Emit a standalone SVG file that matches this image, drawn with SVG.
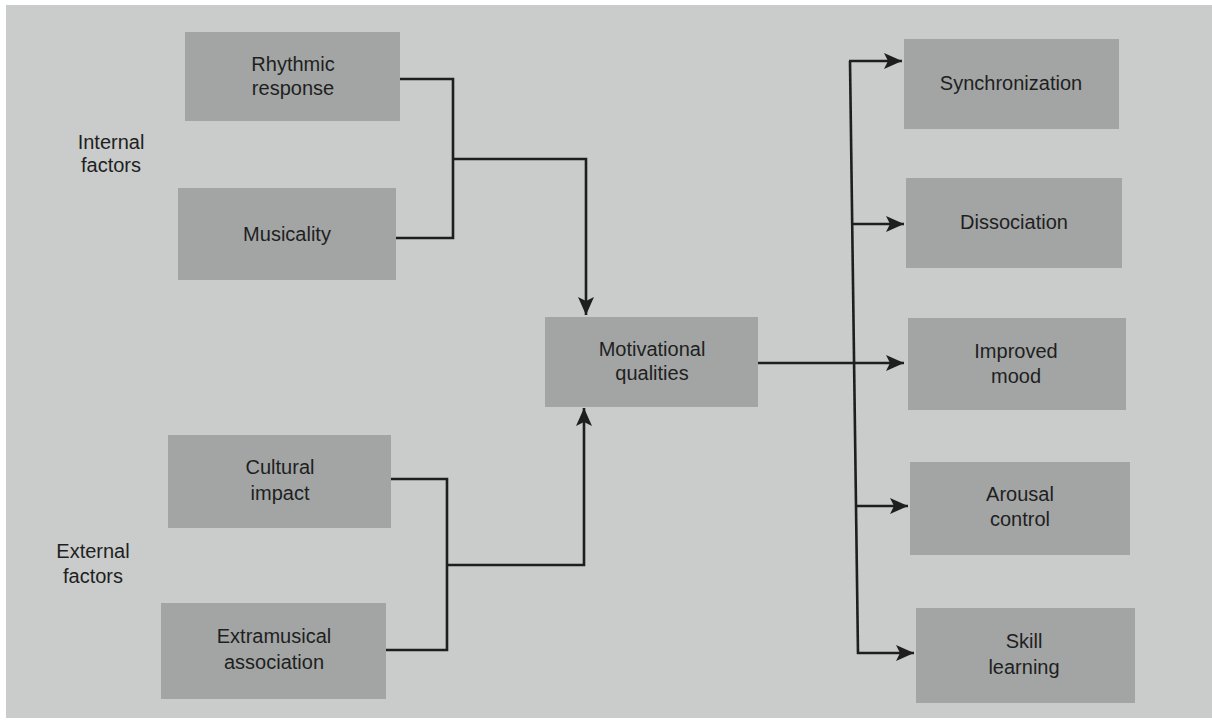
<svg xmlns="http://www.w3.org/2000/svg" width="1212" height="720" viewBox="0 0 1212 720">
<defs>
<marker id="ah" markerUnits="userSpaceOnUse" markerWidth="20" markerHeight="16" refX="18" refY="8" orient="auto">
<path d="M0,0 L18,8 L0,16 L4,8 z" fill="#1e1e1e"/>
</marker>
<style>
.box{fill:#a2a5a4}
.t{font-family:"Liberation Sans",Arial,sans-serif;font-size:20px;fill:#1f1f1f;text-anchor:middle}
.c{fill:none;stroke:#1e1e1e;stroke-width:2.6}
</style>
</defs>
<rect width="1212" height="720" fill="#ffffff"/>
<rect x="6" y="5" width="1206" height="713" fill="#c9cccb"/>
<g id="connectors">
<path class="c" d="M400,79 H453 V238 H396"/>
<path class="c" d="M453,159 H586 V315" marker-end="url(#ah)"/>
<path class="c" d="M391,479 H447 V650 H386"/>
<path class="c" d="M447,565 H584 V408" marker-end="url(#ah)"/>
<path class="c" d="M758,363 H904" marker-end="url(#ah)"/>
<path class="c" d="M850,61 L858,654"/>
<path class="c" d="M849,61 H902" marker-end="url(#ah)"/>
<path class="c" d="M852,224 H904" marker-end="url(#ah)"/>
<path class="c" d="M856,506 H908" marker-end="url(#ah)"/>
<path class="c" d="M857,653 H914" marker-end="url(#ah)"/>
</g>
<g id="internal-label"><text class="t" x="111" y="149">Internal</text><text class="t" x="111" y="172">factors</text></g>
<g id="external-label"><text class="t" x="93" y="558">External</text><text class="t" x="93" y="583">factors</text></g>
<g id="rhythmic"><rect class="box" x="185" y="32" width="215" height="89"/><text class="t" x="293" y="71">Rhythmic</text><text class="t" x="293" y="95">response</text></g>
<g id="musicality"><rect class="box" x="178" y="188" width="218" height="92"/><text class="t" x="287" y="241">Musicality</text></g>
<g id="cultural"><rect class="box" x="168" y="435" width="223" height="93"/><text class="t" x="280" y="474">Cultural</text><text class="t" x="280" y="500">impact</text></g>
<g id="extramusical"><rect class="box" x="161" y="603" width="225" height="96"/><text class="t" x="274" y="643">Extramusical</text><text class="t" x="274" y="669">association</text></g>
<g id="motivational"><rect class="box" x="545" y="317" width="213" height="90"/><text class="t" x="652" y="356">Motivational</text><text class="t" x="652" y="380">qualities</text></g>
<g id="synchronization"><rect class="box" x="904" y="39" width="215" height="90"/><text class="t" x="1011" y="90">Synchronization</text></g>
<g id="dissociation"><rect class="box" x="906" y="178" width="216" height="90"/><text class="t" x="1014" y="229">Dissociation</text></g>
<g id="improved-mood"><rect class="box" x="908" y="318" width="218" height="92"/><text class="t" x="1016" y="358">Improved</text><text class="t" x="1016" y="383">mood</text></g>
<g id="arousal-control"><rect class="box" x="910" y="462" width="220" height="93"/><text class="t" x="1020" y="501">Arousal</text><text class="t" x="1020" y="526">control</text></g>
<g id="skill-learning"><rect class="box" x="916" y="608" width="219" height="95"/><text class="t" x="1024" y="648">Skill</text><text class="t" x="1024" y="674">learning</text></g>
</svg>
